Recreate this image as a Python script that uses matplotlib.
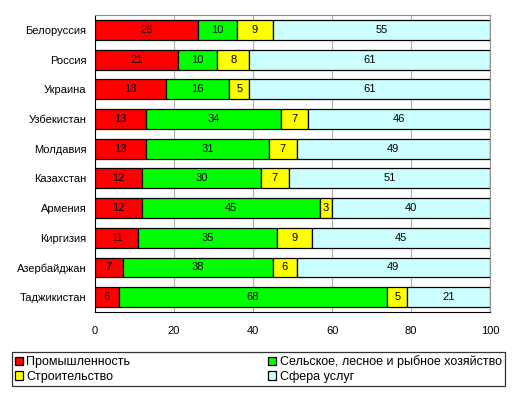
import matplotlib
matplotlib.use("Agg")
import matplotlib.pyplot as plt
import numpy as np

plt.rcParams['font.family'] = ['Liberation Sans', 'DejaVu Sans']

countries = ["Белоруссия", "Россия", "Украина", "Узбекистан", "Молдавия",
             "Казахстан", "Армения", "Киргизия", "Азербайджан", "Таджикистан"]
industry = [26, 21, 18, 13, 13, 12, 12, 11, 7, 6]
agriculture = [10, 10, 16, 34, 31, 30, 45, 35, 38, 68]
construction = [9, 8, 5, 7, 7, 7, 3, 9, 6, 5]
services = [55, 61, 61, 46, 49, 51, 40, 45, 49, 21]
series_names = ["Промышленность", "Сельское, лесное и рыбное хозяйство",
                "Строительство", "Сфера услуг"]
colors = ["#FF0000", "#00FF00", "#FFFF00", "#CCFFFF"]
xticks = [0, 20, 40, 60, 80, 100]

fig = plt.figure(figsize=(5.16, 3.95), dpi=100)
ax = fig.add_axes([0.184, 0.210, 0.766, 0.752])

y = np.arange(len(countries))
left = np.zeros(len(countries))
handles = []
for vals, name, c in zip([industry, agriculture, construction, services], series_names, colors):
    vals = np.array(vals, dtype=float)
    bars = ax.barh(y, vals, left=left, height=0.67, color=c, edgecolor='black',
                   linewidth=0.9, label=name, zorder=3)
    handles.append(bars)
    for yi, l, v in zip(y, left, vals):
        ax.text(l + v / 2, yi, f"{int(v)}", ha='center', va='center', fontsize=8, zorder=4)
    left += vals

ax.set_xlim(0, 100)
ax.set_ylim(len(countries) - 0.5, -0.5)
ax.set_yticks(y)
ax.set_yticklabels(countries, fontsize=8)
ax.set_xticks(xticks)
ax.set_xticklabels([str(t) for t in xticks], fontsize=8)
ax.tick_params(axis='both', length=0, pad=6)
ax.tick_params(axis='x', pad=10)
ax.grid(axis='x', color='#B0B0B0', linewidth=0.8, zorder=0)
ax.set_axisbelow(True)
for s in ['top', 'right']:
    ax.spines[s].set_color('#909090')
for s in ['left', 'bottom']:
    ax.spines[s].set_color('black')

order = [0, 2, 1, 3]
leg = fig.legend([handles[i] for i in order], [series_names[i] for i in order],
                 ncol=2, loc='lower left', bbox_to_anchor=(0.023, 0.023, 0.955, 0.093),
                 mode='expand', fontsize=9, frameon=True, fancybox=False,
                 edgecolor='black', handlelength=0.65, handleheight=0.65,
                 handletextpad=0.25, borderpad=0.25, labelspacing=0.2, borderaxespad=0)
leg.get_frame().set_linewidth(0.9)

fig.savefig("out.png", dpi=100)
